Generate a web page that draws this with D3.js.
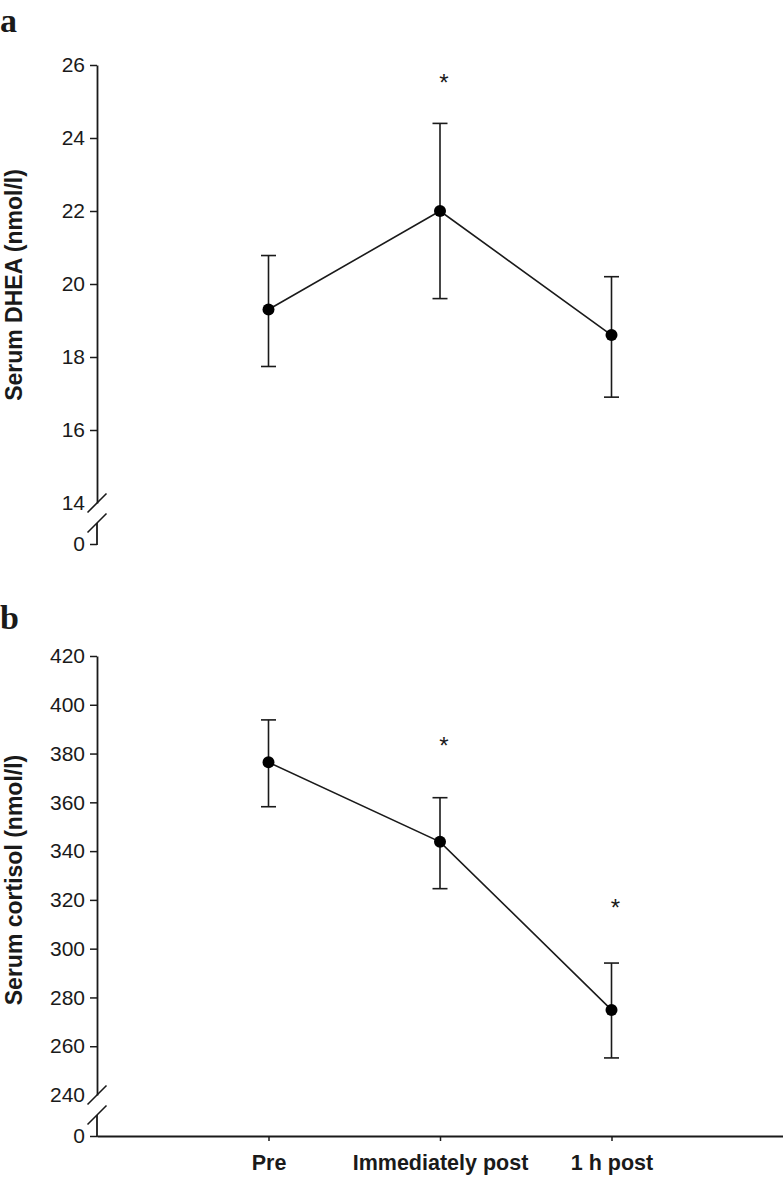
<!DOCTYPE html>
<html>
<head>
<meta charset="utf-8">
<script src="https://cdn.jsdelivr.net/npm/d3@7/dist/d3.min.js"></script>
<style>
  body { margin: 0; background: #fff; }
  svg { display: block; }
</style>
</head>
<body>
<svg id="chart" width="783" height="1178"></svg>
<script>
// ---------- data ----------
const categories = ["Pre", "Immediately post", "1 h post"];

const dheaMean  = [19.3, 22.0, 18.6];
const dheaUpper = [20.78, 24.4, 20.2];
const dheaLower = [17.74, 19.6, 16.9];
const dheaStars = [null, 25.55, null];
const dheaTicks = [14, 16, 18, 20, 22, 24, 26];

const cortMean  = [376.4, 343.8, 274.9];
const cortUpper = [393.8, 361.9, 294.1];
const cortLower = [358.2, 324.6, 255.2];
const cortStars = [null, 383.9, 317.3];
const cortTicks = [240, 260, 280, 300, 320, 340, 360, 380, 400, 420];

// ---------- layout ----------
const svg = d3.select("#chart");
const axisX = 97;
const ink = "#1a1a1a";
const tickFont = "'Liberation Sans', Arial, Helvetica, sans-serif";

const x = d3.scalePoint().domain(categories).range([axisX, 783]).padding(1);

function panel(opts) {
  const g = svg.append("g");
  const y = d3.scaleLinear().domain(opts.domain).range(opts.range);
  const breakY = y(opts.domain[0]);
  const zeroY = breakY + opts.zeroGap;

  // panel letter
  g.append("text").attr("x", 0).attr("y", opts.letterY)
    .attr("font-family", "'Liberation Serif', 'Times New Roman', serif")
    .attr("font-weight", "bold").attr("font-size", 34).attr("fill", ink)
    .text(opts.letter);

  // y axis
  const ax = d3.axisLeft(y).tickValues(opts.ticks).tickFormat(d3.format("d"))
    .tickSize(7).tickSizeOuter(0).tickPadding(5);
  const ag = g.append("g").attr("transform", `translate(${axisX},0)`).call(ax);
  ag.select(".domain").attr("stroke", ink).attr("stroke-width", 1.8);
  ag.selectAll(".tick line").attr("stroke", ink).attr("stroke-width", 1.5)
    .filter(d => d === opts.domain[0]).remove();
  ag.selectAll(".tick text").attr("font-family", tickFont).attr("font-size", 21).attr("fill", ink);

  // zero segment with break
  const zeroScale = d3.scaleLinear().domain([0, 1]).range([zeroY, zeroY - 1]);
  const zg = g.append("g").attr("transform", `translate(${axisX},0)`)
    .call(d3.axisLeft(zeroScale).tickValues([0]).tickFormat(d3.format("d"))
      .tickSize(7).tickSizeOuter(0).tickPadding(5));
  zg.select(".domain").remove();
  zg.selectAll(".tick line").attr("stroke", ink).attr("stroke-width", 1.5);
  zg.selectAll(".tick text").attr("font-family", tickFont).attr("font-size", 21).attr("fill", ink);
  const s2 = breakY + 20;
  g.append("line").attr("x1", axisX).attr("x2", axisX).attr("y1", s2).attr("y2", zeroY + 0.9)
    .attr("stroke", ink).attr("stroke-width", 1.8);
  [breakY, s2].forEach(cy => {
    g.append("line").attr("x1", axisX - 9.5).attr("y1", cy + 9.5)
      .attr("x2", axisX + 9.5).attr("y2", cy - 9.5)
      .attr("stroke", ink).attr("stroke-width", 1.6);
  });

  if (opts.xAxis) {
    const xg = g.append("g").attr("transform", `translate(0,${zeroY})`)
      .call(d3.axisBottom(x).tickSize(5).tickSizeOuter(0).tickPadding(14));
    xg.select(".domain").attr("stroke", ink).attr("stroke-width", 1.8);
    xg.selectAll(".tick line").attr("stroke", ink).attr("stroke-width", 1.5);
    xg.selectAll(".tick text").attr("font-family", tickFont).attr("font-size", 21.5)
      .attr("font-weight", "bold").attr("fill", ink);
  }

  // y title
  g.append("text")
    .attr("transform", `translate(22,${opts.titleY}) rotate(-90)`)
    .attr("text-anchor", "middle")
    .attr("font-family", tickFont).attr("font-weight", "bold").attr("font-size", 23)
    .attr("fill", ink).text(opts.title);

  const data = categories.map((c, i) => ({
    c, m: opts.mean[i], lo: opts.lower[i], hi: opts.upper[i], s: opts.stars[i]
  }));

  // error bars
  const eb = g.append("g").attr("stroke", ink).attr("stroke-width", 1.6);
  data.forEach(d => {
    const cx = x(d.c);
    eb.append("line").attr("x1", cx).attr("x2", cx).attr("y1", y(d.hi)).attr("y2", y(d.lo));
    eb.append("line").attr("x1", cx - 7.5).attr("x2", cx + 7.5).attr("y1", y(d.hi)).attr("y2", y(d.hi));
    eb.append("line").attr("x1", cx - 7.5).attr("x2", cx + 7.5).attr("y1", y(d.lo)).attr("y2", y(d.lo));
  });

  // line
  g.append("path").datum(data)
    .attr("d", d3.line().x(d => x(d.c)).y(d => y(d.m)))
    .attr("fill", "none").attr("stroke", ink).attr("stroke-width", 1.6);

  // points
  g.selectAll(null).data(data).enter().append("circle")
    .attr("cx", d => x(d.c)).attr("cy", d => y(d.m)).attr("r", 6).attr("fill", "#000");

  // asterisks
  g.selectAll(null).data(data.filter(d => d.s !== null)).enter().append("text")
    .attr("x", d => x(d.c) + 4).attr("y", d => y(d.s) + 10)
    .attr("text-anchor", "middle")
    .attr("font-family", tickFont).attr("font-size", 24).attr("fill", ink)
    .text("*");
}

panel({
  letter: "a", letterY: 32,
  domain: [14, 26], range: [503, 65], zeroGap: 41,
  ticks: dheaTicks, mean: dheaMean, upper: dheaUpper, lower: dheaLower, stars: dheaStars,
  title: "Serum DHEA (nmol/l)", titleY: 285, xAxis: false
});

panel({
  letter: "b", letterY: 629,
  domain: [240, 420], range: [1095, 656], zeroGap: 41,
  ticks: cortTicks, mean: cortMean, upper: cortUpper, lower: cortLower, stars: cortStars,
  title: "Serum cortisol (nmol/l)", titleY: 880, xAxis: true
});
</script>
</body>
</html>
